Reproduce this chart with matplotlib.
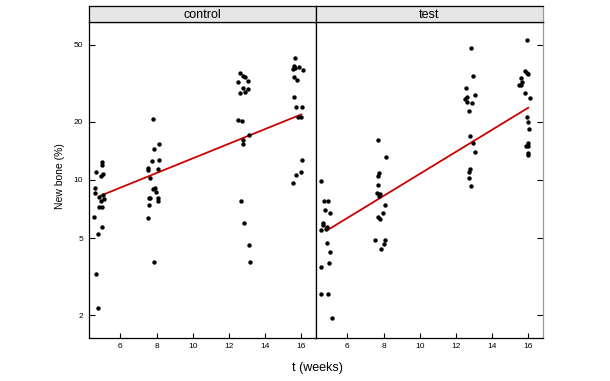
import matplotlib
matplotlib.use('agg')
import matplotlib.pyplot as plt
import numpy as np

plt.rcParams['font.family'] = ['Liberation Sans', 'DejaVu Sans']

# jittered time (weeks) and new bone (%)
control_t = [4.61, 4.64, 4.94, 5.06, 4.97, 5.01, 4.62, 4.83, 5.03, 4.94, 5.10,
             4.81, 5.01, 4.57, 5.01, 4.75, 4.66, 4.75,
             7.82, 7.87, 8.12, 7.75, 8.12, 7.54, 7.51, 8.06, 7.65, 7.80, 7.93,
             7.97, 7.58, 7.65, 8.06, 8.10, 7.58, 7.51, 7.84,
             12.62, 12.78, 12.89, 12.49, 13.06, 12.78, 13.08, 12.64, 12.89,
             12.53, 12.73, 13.09, 12.76, 12.80, 12.67, 12.86, 13.11, 13.15,
             15.63, 15.58, 15.54, 15.63, 15.89, 16.11, 15.59, 15.78, 15.58,
             15.69, 16.02, 15.81, 16.00, 16.02, 15.69, 16.00, 15.56]
control_y = [9.06, 11.04, 10.5, 10.74, 11.95, 12.34, 8.60, 8.20, 8.37, 7.79,
             7.95, 7.25, 7.25, 6.42, 5.74, 5.24, 3.27, 2.19,
             20.7, 14.4, 15.3, 12.6, 12.7, 11.5, 11.3, 11.4, 10.2, 9.02, 9.09,
             8.70, 8.10, 8.04, 8.10, 7.82, 7.43, 6.39, 3.77,
             35.6, 34.4, 34.2, 31.9, 32.4, 29.7, 29.5, 28.0, 28.4, 20.4, 20.2,
             17.1, 16.1, 15.3, 7.82, 6.02, 4.62, 3.77,
             42.6, 38.8, 37.4, 38.1, 38.3, 37.0, 34.2, 32.7, 26.9, 23.9, 23.9,
             21.1, 21.1, 12.7, 10.65, 10.96, 9.68]

test_t = [4.57, 4.73, 4.91, 4.79, 5.06, 4.65, 4.68, 4.88, 4.84, 4.53, 4.88,
          5.02, 4.97, 4.53, 4.57, 4.95, 5.13,
          7.67, 8.13, 7.74, 7.67, 7.71, 7.63, 7.78, 7.73, 8.09, 7.96, 7.69,
          7.78, 7.54, 8.09, 8.04, 7.85,
          12.85, 12.96, 12.54, 13.06, 12.63, 12.48, 12.59, 12.89, 12.70,
          12.78, 12.95, 13.07, 12.78, 12.73, 12.74, 12.84,
          15.94, 15.83, 15.92, 15.99, 15.61, 15.68, 15.50, 15.61, 15.81,
          16.09, 15.94, 16.01, 16.07, 16.01, 15.90, 15.99, 16.01, 15.98]
test_y = [9.88, 7.82, 7.82, 7.00, 6.73, 6.02, 5.86, 5.74, 5.57, 5.52, 4.71,
          4.26, 3.72, 3.54, 2.56, 2.59, 1.93,
          16.1, 13.2, 10.9, 10.5, 9.39, 8.54, 8.46, 8.30, 7.46, 6.73, 6.42,
          6.27, 4.90, 4.90, 4.67, 4.42,
          47.9, 34.6, 30.0, 27.6, 26.7, 26.1, 25.4, 25.1, 22.6, 16.9, 15.5,
          13.95, 11.4, 11.0, 10.2, 9.31,
          52.6, 36.5, 35.8, 35.3, 33.7, 32.2, 31.0, 31.0, 28.0, 26.4, 21.1,
          19.9, 18.4, 15.5, 15.0, 15.0, 13.8, 13.5]

# fitted lines (end points)
fit_t = [4.92, 16.0]
fit_control = [8.3, 21.8]
fit_test = [5.52, 23.6]

panels = ['control', 'test']
xticks = [6, 8, 10, 12, 14, 16]
yticks = [2, 5, 10, 20, 50]

fig = plt.figure(figsize=(6.1, 3.81), dpi=100)

left0 = 88.5 / 610
pw = 227 / 610
bottom = 42.7 / 381
ph = 316.6 / 381
sh = 15.5 / 381

data = [(control_t, control_y, fit_control), (test_t, test_y, fit_test)]

for i, (name, (t, y, fit)) in enumerate(zip(panels, data)):
    x0 = left0 + i * pw
    ax = fig.add_axes([x0, bottom, pw, ph])
    ax.scatter(t, y, s=10, color='black', linewidths=0, zorder=3)
    ax.plot(fit_t, fit, color='#cc0000', lw=1.3, zorder=2)
    ax.set_yscale('log')
    ax.set_xlim(4.24, 16.79)
    ax.set_ylim(1.52, 65.7)
    ax.set_xticks(xticks)
    ax.set_xticklabels([str(v) for v in xticks], fontsize=6)
    ax.yaxis.set_minor_locator(matplotlib.ticker.NullLocator())
    ax.set_yticks(yticks)
    if i == 0:
        ax.set_yticklabels([str(v) for v in yticks], fontsize=6)
        ax.tick_params(axis='y', left=True, right=False, direction='in',
                       length=4.3, width=0.8, pad=4)
    else:
        ax.set_yticklabels([])
        ax.tick_params(axis='y', left=False, right=True, direction='in',
                       length=4.3, width=0.8)
        ax.spines['right'].set_color('#999999')
    ax.tick_params(axis='x', direction='in', length=3.6, width=0.8, pad=3.5)
    for sp in ax.spines.values():
        sp.set_linewidth(0.9)

    strip = fig.add_axes([x0, bottom + ph, pw, sh])
    strip.set_facecolor('#e6e6e6')
    strip.set_xticks([])
    strip.set_yticks([])
    for sp in strip.spines.values():
        sp.set_linewidth(0.9)
    if i == 1:
        strip.spines['right'].set_color('#999999')
    strip.text(0.5, 0.45, name, ha='center', va='center', fontsize=9,
               transform=strip.transAxes)

fig.text(317 / 610, 1 - 368 / 381, 't (weeks)', ha='center', va='center',
         fontsize=9)
fig.text(60 / 610, 1 - 176 / 381, 'New bone (%)', ha='center', va='center',
         rotation=90, fontsize=7.5)

fig.savefig('out.png', dpi=100)
